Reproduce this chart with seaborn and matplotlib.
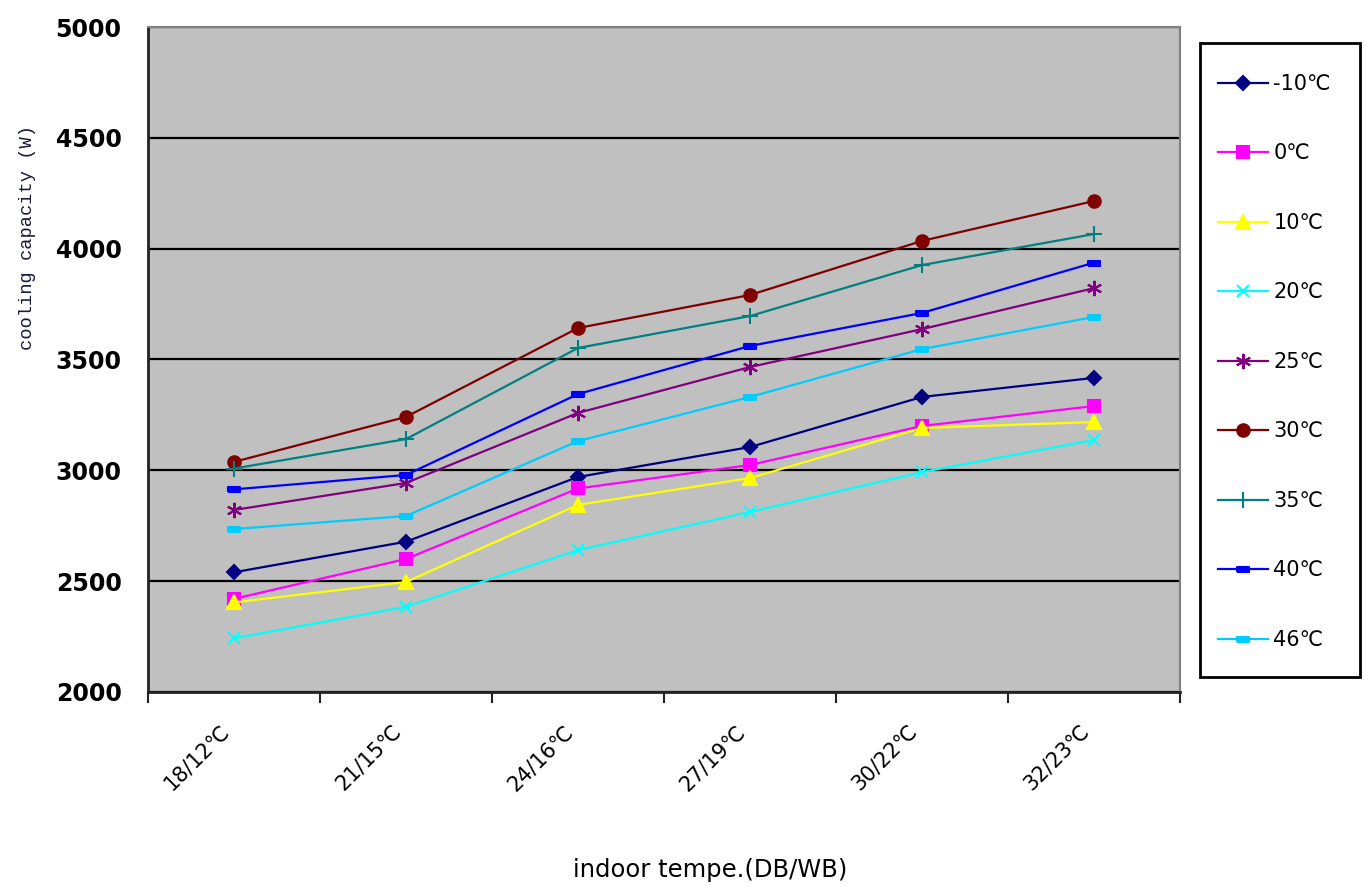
import numpy as np
import pandas as pd
import matplotlib
matplotlib.use('Agg')
import matplotlib.pyplot as plt
import matplotlib.transforms as mtransforms
from matplotlib.patches import Rectangle
import seaborn as sns

# dados
indoor = ['18/12℃', '21/15℃', '24/16℃', '27/19℃', '30/22℃', '32/23℃']
outdoor = ['-10℃', '0℃', '10℃', '20℃', '25℃', '30℃', '35℃', '40℃', '46℃']

cap_m10 = [2540, 2678, 2970, 3105, 3331, 3417]
cap_0 = [2420, 2600, 2918, 3024, 3200, 3290]
cap_10 = [2404, 2496, 2844, 2965, 3191, 3218]
cap_20 = [2242, 2384, 2640, 2812, 2992, 3137]
cap_25 = [2821, 2943, 3259, 3466, 3637, 3822]
cap_30 = [3038, 3241, 3642, 3791, 4035, 4215]
cap_35 = [3008, 3141, 3552, 3696, 3926, 4066]
cap_40 = [2914, 2979, 3344, 3561, 3710, 3937]
cap_46 = [2735, 2794, 3132, 3331, 3547, 3692]

series = [cap_m10, cap_0, cap_10, cap_20, cap_25, cap_30, cap_35, cap_40, cap_46]

df = pd.DataFrame({
    'indoor': indoor * len(outdoor),
    'outdoor': np.repeat(outdoor, len(indoor)),
    'cap': np.concatenate(series),
})

# estilos (estilo Excel)
cores = {'-10℃': '#000080', '0℃': '#FF00FF', '10℃': '#FFFF00', '20℃': '#00FFFF',
         '25℃': '#800080', '30℃': '#800000', '35℃': '#008080', '40℃': '#0000FF',
         '46℃': '#00CCFF'}
dash = [(-1, -0.45), (1, -0.45), (1, 0.45), (-1, 0.45), (-1, -0.45)]
marcadores = {'-10℃': 'D', '0℃': 's', '10℃': '^', '20℃': 'x', '25℃': (6, 2, 0),
              '30℃': 'o', '35℃': '+', '40℃': dash, '46℃': dash}
tamanhos = {'-10℃': 7.5, '0℃': 9, '10℃': 9.5, '20℃': 9, '25℃': 11,
            '30℃': 9, '35℃': 11, '40℃': 8, '46℃': 8}

plt.rcParams['font.family'] = ['DejaVu Sans']

fig = plt.figure(figsize=(13.67, 8.86), dpi=100)
ax = fig.add_axes([0.1083, 0.219, 0.7549, 0.7505])

sns.lineplot(data=df, x='indoor', y='cap', hue='outdoor',
             hue_order=outdoor, palette=cores, sort=False, legend=False,
             linewidth=1.6, ax=ax)

for line, nome in zip(ax.lines, outdoor):
    c = cores[nome]
    line.set_marker(marcadores[nome])
    line.set_markeredgecolor(c)
    line.set_markerfacecolor(c)
    line.set_markersize(tamanhos[nome])
    line.set_markeredgewidth(1.5)
    line.set_label(nome)

ax.set_facecolor('#C0C0C0')
ax.set_xlim(-0.5, 5.5)
ax.set_ylim(2000, 5000)
ax.set_yticks(np.arange(2000, 5001, 500))
ax.yaxis.grid(True, color='black', linewidth=1.6)
ax.xaxis.grid(False)
ax.set_axisbelow(True)

for s in ['left', 'bottom']:
    ax.spines[s].set_color('#222222')
    ax.spines[s].set_linewidth(2)
for s in ['top', 'right']:
    ax.spines[s].set_color('#808080')
    ax.spines[s].set_linewidth(1.5)

ax.tick_params(axis='y', length=0, pad=19, labelsize=17)
for lb in ax.get_yticklabels():
    lb.set_fontweight('bold')

ax.set_xticks(range(len(indoor)))
ax.set_xticklabels(indoor, rotation=45, ha='right', va='center',
                   rotation_mode='anchor', fontsize=15)
ax.tick_params(axis='x', which='major', length=0, pad=26)
ax.set_xticks(np.arange(-0.5, 6, 1), minor=True)
ax.tick_params(axis='x', which='minor', length=8, width=1.5, color='#222222')
desloc = mtransforms.ScaledTranslation(-8 / 100, 0, fig.dpi_scale_trans)
for lb in ax.get_xticklabels():
    lb.set_transform(lb.get_transform() + desloc)

ax.set_xlabel('indoor tempe.(DB/WB)', fontsize=17.5)
ax.xaxis.set_label_coords(0.545, -0.25)
ax.set_ylabel('cooling capacity (W)', fontsize=13.5, family='Liberation Mono',
              color='#1a1a3a')
ax.yaxis.set_label_coords(-0.1085, 0.684)

# legenda com moldura desenhada à parte
fig.patches.append(Rectangle((1200 / 1367, 1 - 677 / 886), 160 / 1367, 634 / 886,
                             transform=fig.transFigure, facecolor='white',
                             edgecolor='black', linewidth=2, zorder=0))
leg = fig.legend(handles=ax.lines, labels=outdoor, loc='upper left',
                 bbox_to_anchor=(1218 / 1367, 1 - 74 / 886), fontsize=15,
                 frameon=False, labelspacing=2.375, handlelength=2.4,
                 handletextpad=0.25, borderpad=0, borderaxespad=0)

plt.savefig('out.png', dpi=100)
